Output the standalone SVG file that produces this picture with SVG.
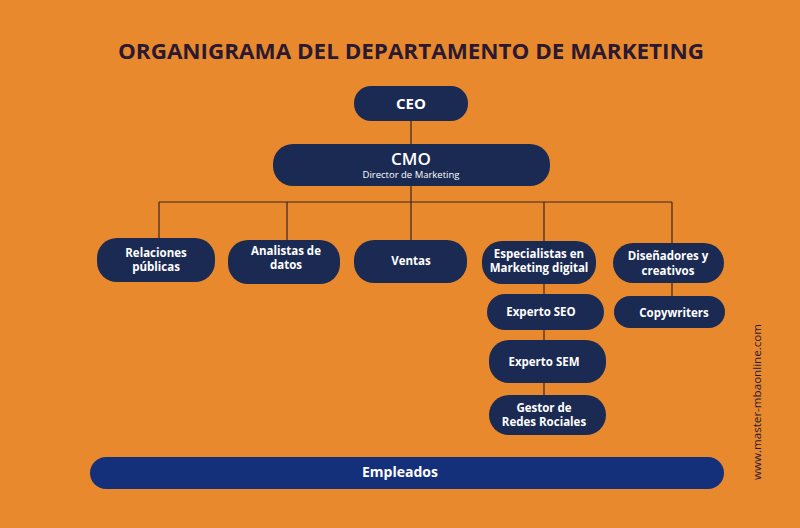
<svg xmlns="http://www.w3.org/2000/svg" width="800" height="528" viewBox="0 0 800 528">
<style>
.n{fill:#1b2a52}
.t{font-family:"Open Sans","Liberation Sans",sans-serif;font-weight:bold;fill:#ffffff;text-anchor:middle;font-size:11.5px}
.c{stroke:#3a2622;stroke-width:1.2;fill:none}
</style>
<rect width="800" height="528" fill="#e8892d"/>
<text x="411" y="59" font-family="Open Sans, Liberation Sans, sans-serif" font-weight="bold" font-size="21" fill="#2a1930" text-anchor="middle" textLength="586" lengthAdjust="spacingAndGlyphs">ORGANIGRAMA DEL DEPARTAMENTO DE MARKETING</text>
<g id="connectors" class="c">
<path d="M411 121V144M411 186V240M159 202H672M159 202V238M287 202V240M544 202V241M672 202V243M544 284V294M544 330V340M544 383V395M672 283V296"/>
</g>
<g id="ceo"><rect class="n" x="354" y="86" width="114" height="35" rx="17"/><text class="t" x="411" y="109" style="font-size:15px">CEO</text></g>
<g id="cmo"><rect class="n" x="273" y="144" width="277" height="42" rx="20"/><text class="t" x="411" y="165" style="font-size:17px;font-weight:600">CMO</text><text class="t" x="411" y="178" style="font-size:9.5px;font-weight:normal">Director de Marketing</text></g>
<g id="relaciones"><rect class="n" x="97" y="238" width="118" height="44" rx="20"/><text class="t" x="156" y="257">Relaciones</text><text class="t" x="156" y="271">públicas</text></g>
<g id="analistas"><rect class="n" x="228" y="240" width="112" height="44" rx="20"/><text class="t" x="286" y="255">Analistas de</text><text class="t" x="286" y="269">datos</text></g>
<g id="ventas"><rect class="n" x="354" y="240" width="113" height="43" rx="20"/><text class="t" x="411" y="265">Ventas</text></g>
<g id="especialistas"><rect class="n" x="482" y="241" width="114" height="43" rx="20"/><text class="t" x="539" y="258">Especialistas en</text><text class="t" x="539" y="272">Marketing digital</text></g>
<g id="disenadores"><rect class="n" x="613" y="243" width="111" height="40" rx="20"/><text class="t" x="668" y="260">Diseñadores y</text><text class="t" x="668" y="275">creativos</text></g>
<g id="seo"><rect class="n" x="487" y="294" width="117" height="36" rx="18"/><text class="t" x="541" y="316">Experto SEO</text></g>
<g id="copy"><rect class="n" x="614" y="296" width="111" height="32" rx="16"/><text class="t" x="674" y="317">Copywriters</text></g>
<g id="sem"><rect class="n" x="489" y="340" width="117" height="43" rx="20"/><text class="t" x="544" y="366">Experto SEM</text></g>
<g id="gestor"><rect class="n" x="489" y="395" width="117" height="40" rx="20"/><text class="t" x="544" y="412">Gestor de</text><text class="t" x="544" y="426">Redes Rociales</text></g>
<g id="empleados"><rect x="90" y="457" width="634" height="32" rx="16" fill="#15307a"/><text class="t" x="400" y="477" style="font-size:14px">Empleados</text></g>
<text transform="translate(761 402) rotate(-90)" font-family="Open Sans, Liberation Sans, sans-serif" font-size="10.5" fill="#2a1930" text-anchor="middle" textLength="156" lengthAdjust="spacingAndGlyphs">www.master-mbaonline.com</text>
</svg>
